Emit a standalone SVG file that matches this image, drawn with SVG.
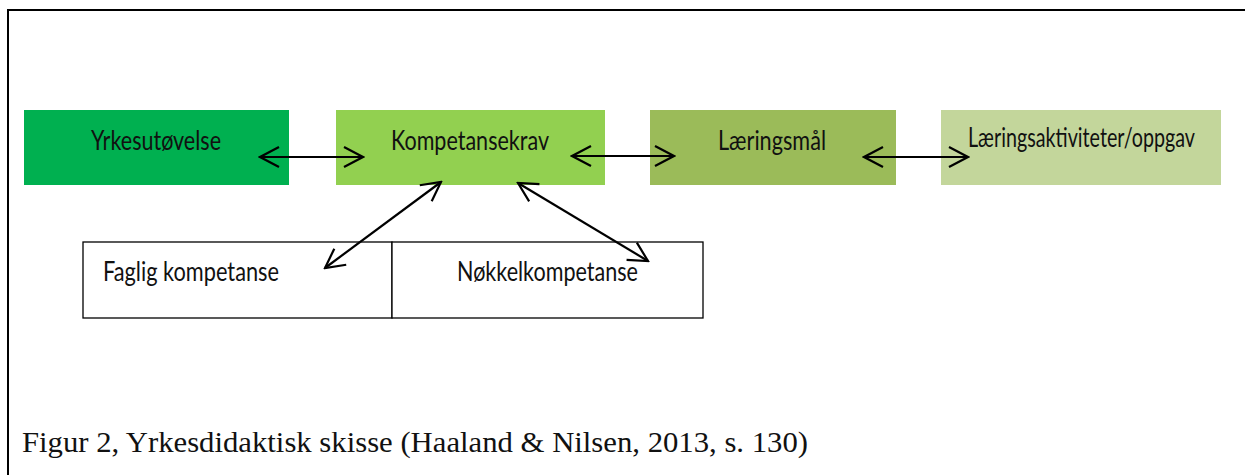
<svg xmlns="http://www.w3.org/2000/svg" width="1245" height="475" viewBox="0 0 1245 475">
<style>
.lbl{font-family:Lato,"Noto Sans",sans-serif;font-size:26px;fill:#111}
.cap{font-family:"Liberation Serif","Times New Roman",serif;font-size:30px;fill:#111}
.con{stroke:#000;stroke-width:2.2;fill:none;marker-start:url(#ah);marker-end:url(#ah)}
</style>
<defs>
<marker id="ah" viewBox="-22 -12 24 24" refX="0" refY="0" markerWidth="24" markerHeight="24" markerUnits="userSpaceOnUse" orient="auto-start-reverse">
<path d="M-19,-10 L0,0 L-19,10" fill="none" stroke="#000" stroke-width="2.2"/>
</marker>
</defs>
<rect width="1245" height="475" fill="#fff"/>
<path d="M8,475 V10 H1245" fill="none" stroke="#000" stroke-width="2"/>
<g id="yrkesutovelse">
<rect x="24" y="110" width="265" height="75" fill="#00B050"/>
<text class="lbl" x="91" y="150" textLength="130" lengthAdjust="spacingAndGlyphs">Yrkesutøvelse</text>
</g>
<g id="kompetansekrav">
<rect x="336" y="110" width="269" height="75" fill="#92D050"/>
<text class="lbl" x="391" y="150" textLength="158" lengthAdjust="spacingAndGlyphs">Kompetansekrav</text>
</g>
<g id="laeringsmal">
<rect x="650" y="110" width="246" height="75" fill="#9BBB59"/>
<text class="lbl" x="718" y="150" textLength="108" lengthAdjust="spacingAndGlyphs">Læringsmål</text>
</g>
<g id="laeringsaktiviteter">
<rect x="941" y="110" width="280" height="75" fill="#C3D69B"/>
<text class="lbl" x="968" y="147" font-size="22" textLength="227" lengthAdjust="spacingAndGlyphs">Læringsaktiviteter/oppgav</text>
</g>
<g id="faglig">
<rect x="83" y="242" width="309" height="76" fill="#fff" stroke="#000" stroke-width="1.3"/>
<text class="lbl" x="103" y="281" textLength="176" lengthAdjust="spacingAndGlyphs">Faglig kompetanse</text>
</g>
<g id="nokkel">
<rect x="392" y="242" width="311" height="76" fill="#fff" stroke="#000" stroke-width="1.3"/>
<text class="lbl" x="457" y="281" textLength="181" lengthAdjust="spacingAndGlyphs">Nøkkelkompetanse</text>
</g>
<g id="connectors">
<line class="con" x1="260" y1="157" x2="363" y2="157"/>
<line class="con" x1="572" y1="156" x2="674" y2="156"/>
<line class="con" x1="864" y1="157" x2="968" y2="157"/>
<line class="con" x1="325" y1="268" x2="441" y2="182"/>
<line class="con" x1="518" y1="183" x2="648" y2="261"/>
</g>
<text class="cap" x="22" y="452" textLength="786" lengthAdjust="spacingAndGlyphs">Figur 2, Yrkesdidaktisk skisse (Haaland &amp; Nilsen, 2013, s. 130)</text>
</svg>
